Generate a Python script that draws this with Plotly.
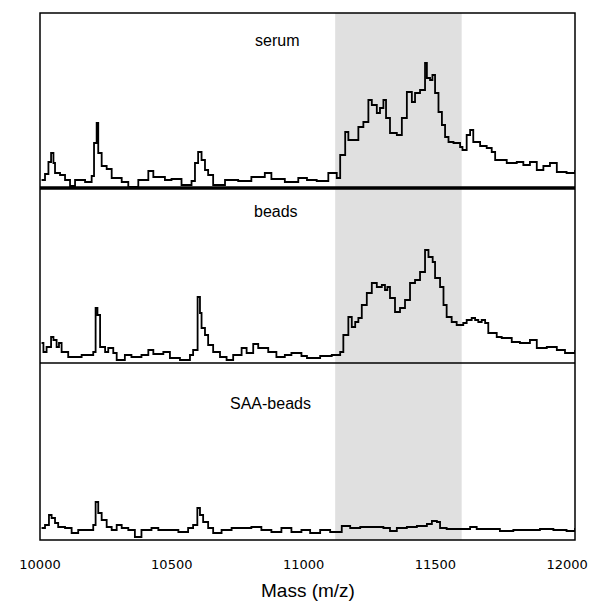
import plotly.graph_objects as go
from plotly.subplots import make_subplots

# ---- data (mass in Da, intensity in arbitrary units) ----
serum_mass = [10006, 10019, 10032, 10042, 10051, 10057, 10076, 10095, 10114, 10133, 10171,
              10196, 10205, 10215, 10221, 10234, 10253, 10272, 10310, 10335, 10373, 10411,
              10430, 10474, 10499, 10537, 10575, 10588, 10600, 10613, 10626, 10638, 10657,
              10702, 10752, 10802, 10853, 10878, 10929, 10980,
              11013, 11050, 11094, 11126, 11139, 11158, 11170, 11196, 11208, 11227, 11246,
              11259, 11278, 11290, 11303, 11313, 11328, 11354, 11373, 11392, 11411, 11423,
              11442, 11461, 11468, 11480, 11489, 11499, 11512, 11525, 11537, 11550, 11569,
              11594, 11603, 11619, 11632, 11644, 11670, 11695, 11714, 11727, 11771, 11809,
              11834, 11859, 11885, 11910, 11935, 11961, 11998, 12030]
serum_int = [8, 14, 26, 35, 25, 15, 13, 8, 2, 8, 6,
             12, 45, 65, 35, 22, 19, 10, 6, 1, 8, 17,
             11, 8, 9, 3, 7, 25, 36, 28, 18, 13, 3,
             8, 7, 11, 15, 9, 6, 10,
             8, 7, 15, 10, 33, 56, 48, 48, 61, 66, 88,
             83, 75, 80, 88, 70, 55, 53, 70, 96, 86, 95,
             98, 125, 110, 108, 113, 95, 76, 63, 51, 46, 45,
             41, 38, 53, 58, 46, 42, 40, 36, 28, 25, 26,
             23, 26, 18, 22, 25, 16, 15, 18]

beads_mass = [10006, 10013, 10025, 10042, 10051, 10063, 10072, 10082, 10107, 10158, 10202,
              10211, 10218, 10228, 10247, 10259, 10278, 10291, 10322, 10347, 10385, 10411,
              10430, 10468, 10493, 10531, 10569, 10581, 10598, 10607, 10613, 10626, 10638,
              10657, 10683, 10708, 10733, 10765, 10784, 10809, 10828, 10866, 10897, 10929,
              10954, 10992,
              11013, 11063, 11107, 11139, 11151, 11170, 11183, 11196, 11208, 11221, 11240,
              11259, 11278, 11297, 11309, 11318, 11328, 11347, 11366, 11385, 11404, 11423,
              11442, 11461, 11474, 11490, 11499, 11518, 11531, 11543, 11562, 11581, 11606,
              11619, 11638, 11651, 11663, 11676, 11689, 11701, 11733, 11752, 11790, 11821,
              11859, 11885, 11923, 11961, 11992, 12030]
beads_int = [20, 11, 16, 26, 23, 16, 20, 11, 6, 8, 11,
             55, 48, 16, 11, 15, 10, 3, 8, 6, 8, 13,
             9, 11, 5, 3, 8, 13, 66, 50, 35, 28, 18,
             11, 6, 3, 8, 15, 10, 19, 15, 11, 6, 8,
             10, 7,
             5, 7, 8, 11, 28, 46, 36, 41, 45, 58, 70,
             80, 76, 78, 73, 76, 65, 51, 55, 63, 80, 83,
             91, 113, 106, 101, 85, 76, 58, 46, 41, 38, 40,
             43, 45, 43, 41, 43, 40, 30, 26, 25, 21, 20,
             23, 15, 16, 13, 10, 13]

saa_mass = [10006, 10019, 10034, 10044, 10057, 10069, 10095, 10120, 10145, 10183, 10202,
            10211, 10221, 10234, 10253, 10272, 10291, 10310, 10335, 10360, 10385, 10423,
            10449, 10487, 10525, 10562, 10581, 10597, 10607, 10619, 10638, 10657, 10689,
            10727, 10765, 10802, 10840, 10878, 10916, 10954, 10992,
            11025, 11063, 11101, 11126, 11145, 11177, 11215, 11265, 11303, 11328, 11354,
            11392, 11430, 11468, 11487, 11506, 11518, 11543, 11594, 11632, 11657, 11695,
            11745, 11796, 11847, 11897, 11948, 11998, 12030]
saa_int = [12, 15, 25, 22, 17, 13, 12, 7, 10, 10, 15,
           38, 27, 20, 13, 10, 15, 12, 10, 3, 10, 12,
           10, 10, 8, 12, 15, 32, 25, 18, 12, 7, 10,
           12, 12, 13, 10, 8, 12, 8, 10,
           7, 10, 8, 8, 14, 12, 13, 13, 12, 9, 12,
           13, 14, 16, 19, 18, 12, 11, 11, 13, 11, 11,
           9, 10, 10, 11, 10, 9, 12]

panel_labels = ["serum", "beads", "SAA-beads"]
x_ticks = [10000, 10500, 11000, 11500, 12000]
shade_range = [11120, 11600]
x_range = [10000, 12030]

series = [(serum_mass, serum_int), (beads_mass, beads_int), (saa_mass, saa_int)]
y_ranges = [[0, 175], [0, 175], [0, 177]]

fig = make_subplots(rows=3, cols=1, shared_xaxes=True, vertical_spacing=0,
                    row_heights=[175, 175, 177])

for i, (mx, iy) in enumerate(series):
    fig.add_trace(go.Scatter(x=mx, y=iy, mode="lines", line_shape="hv",
                             line=dict(color="black", width=1.8),
                             showlegend=False, hoverinfo="skip"), row=i + 1, col=1)
    fig.update_yaxes(range=y_ranges[i], visible=False, showgrid=False,
                     zeroline=False, row=i + 1, col=1)

fig.update_xaxes(range=x_range, showgrid=False, zeroline=False, showline=False,
                 tickvals=x_ticks, ticktext=[str(v) for v in x_ticks])
fig.update_xaxes(showticklabels=False, row=1, col=1)
fig.update_xaxes(showticklabels=False, row=2, col=1)
fig.update_xaxes(row=3, col=1, showticklabels=True, ticks="",
                 tickfont=dict(family="DejaVu Sans", size=13, color="black"),
                 ticklabelstandoff=15)

# shaded window
fig.add_shape(type="rect", xref="x3", yref="paper", x0=shade_range[0], x1=shade_range[1],
              y0=0, y1=1, fillcolor="#e0e0e0", line_width=0, layer="below")

# frame and separators
sep1 = 352 / 527
sep2 = 177 / 527
fig.add_shape(type="rect", xref="paper", yref="paper", x0=0, x1=1, y0=0, y1=1,
              line=dict(color="black", width=1.5))
fig.add_shape(type="line", xref="paper", yref="paper", x0=0, x1=1, y0=sep1, y1=sep1,
              line=dict(color="black", width=3.5))
fig.add_shape(type="line", xref="paper", yref="paper", x0=0, x1=1, y0=sep2, y1=sep2,
              line=dict(color="black", width=1.5))

label_y = [499 / 527, 328 / 527, 137 / 527]
label_x = [10899, 10896, 10873]
for txt, lx, ly in zip(panel_labels, label_x, label_y):
    fig.add_annotation(text=txt, x=lx, y=ly, xref="x3", yref="paper", showarrow=False,
                       xanchor="center", yanchor="middle",
                       font=dict(family="Liberation Sans", size=16, color="black"))

fig.add_annotation(text="Mass (m/z)", x=0.5, y=-50 / 527, xref="paper", yref="paper",
                   showarrow=False, xanchor="center", yanchor="middle",
                   font=dict(family="Liberation Sans", size=19, color="black"))

# page body has an 8px default margin, so the figure is sized to 592x600
fig.update_layout(width=592, height=600, margin=dict(l=32, r=25, t=5, b=68),
                  paper_bgcolor="white", plot_bgcolor="rgba(0,0,0,0)")

fig.write_html("out.html")
